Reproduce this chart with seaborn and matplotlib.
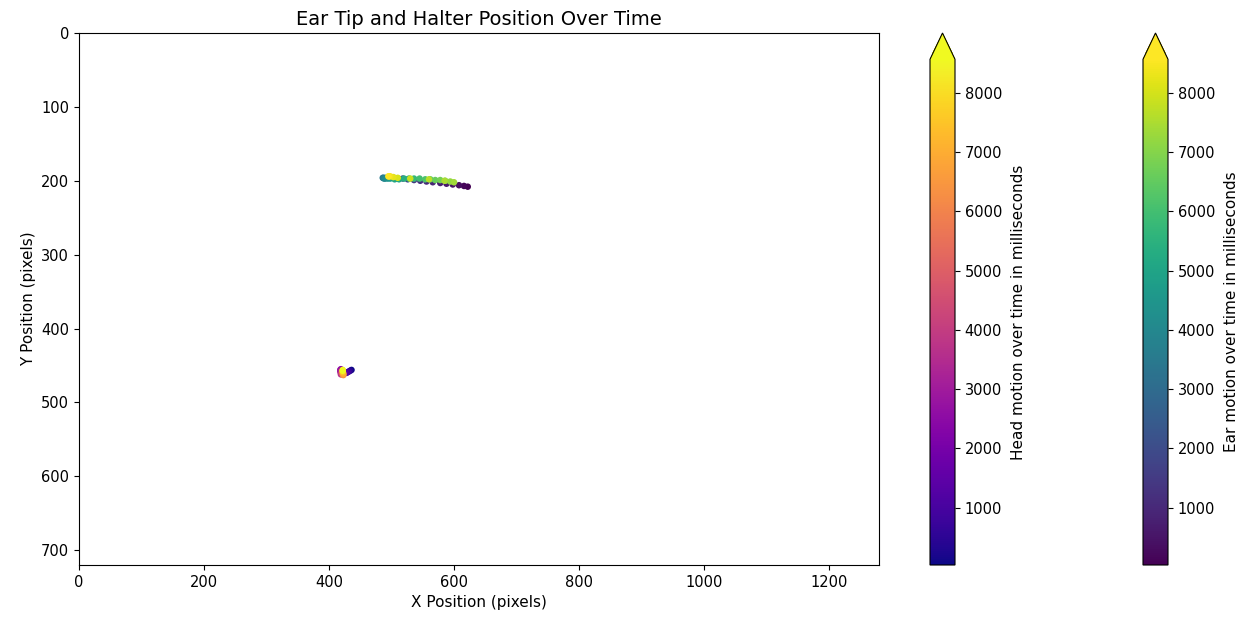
import numpy as np
import pandas as pd
import matplotlib
matplotlib.use("Agg")
import matplotlib.pyplot as plt
import seaborn as sns
from matplotlib.colors import Normalize
from matplotlib.cm import ScalarMappable

# Ear tip trajectory (pixels) and time (ms)
ear_t = [33, 150, 300, 450, 600, 750, 900, 1050, 1200, 1400, 1600, 1800, 2000,
         2300, 2600, 2900, 3200, 3500, 3800, 4100, 4400, 4700, 5000, 5200, 5400,
         5600, 5800, 6000, 6200, 6400, 6600, 6800, 7000, 7200, 7350, 7500, 7700,
         7900, 8100, 8250, 8400, 8500, 8567]
ear_x = [622, 616, 608, 598, 588, 578, 566, 556, 546, 536, 526, 518, 510,
         504, 496, 490, 487, 486, 488, 490, 494, 498, 505, 512, 520,
         528, 536, 545, 554, 562, 570, 578, 586, 594, 600, 585, 560,
         530, 510, 503, 498, 496, 495]
ear_y = [208, 207, 206, 205, 204, 203, 202, 201, 200, 199, 198, 197, 197,
         196, 196, 196, 196, 196, 197, 197, 197, 197, 198, 198, 197,
         197, 197, 197, 198, 198, 199, 199, 200, 201, 202, 200, 198,
         197, 196, 195, 194, 194, 194]

# Halter trajectory (pixels) and time (ms)
halter_t = [33, 300, 600, 900, 1200, 1500, 1800, 2100, 2400, 2700, 3000, 3300,
            3600, 4000, 4500, 5000, 5500, 6000, 6500, 7000, 7500, 8000, 8300, 8567]
halter_x = [436, 434, 432, 430, 428, 425, 422, 420, 419, 418, 418, 419,
            419, 420, 421, 421, 422, 422, 423, 423, 422, 422, 422, 422]
halter_y = [456, 457, 458, 459, 460, 460, 459, 457, 455, 456, 458, 460,
            462, 461, 460, 459, 460, 462, 463, 461, 459, 457, 456, 457]

t_min, t_max = 33, 8567

sns.set_style("ticks")
plt.rcParams['font.family'] = ['DejaVu Sans']
plt.rcParams['font.size'] = 10.5
for k in ["text.color", "axes.labelcolor", "xtick.color", "ytick.color", "axes.edgecolor"]:
    plt.rcParams[k] = "black"

fig = plt.figure(figsize=(12.49, 6.18), dpi=100)
W, H = 1249, 618
ax = fig.add_axes([79 / W, 1 - 565 / H, 800 / W, 532 / H])
cax1 = fig.add_axes([930 / W, 1 - 565 / H, 25 / W, 532 / H])
cax2 = fig.add_axes([1143 / W, 1 - 565 / H, 25 / W, 532 / H])

norm = Normalize(vmin=t_min, vmax=t_max)

halter = pd.DataFrame({"x": halter_x, "y": halter_y, "t": halter_t})
ear = pd.DataFrame({"x": ear_x, "y": ear_y, "t": ear_t})

sns.scatterplot(data=halter, x="x", y="y", hue="t", palette="plasma", hue_norm=norm,
                s=22, linewidth=0, legend=False, ax=ax)
sns.scatterplot(data=ear, x="x", y="y", hue="t", palette="viridis", hue_norm=norm,
                s=22, linewidth=0, legend=False, ax=ax)

ax.set_xlim(0, 1280)
ax.set_ylim(720, 0)
ax.set_xticks([0, 200, 400, 600, 800, 1000, 1200])
ax.set_yticks([0, 100, 200, 300, 400, 500, 600, 700])
ax.set_xlabel("X Position (pixels)", fontsize=11)
ax.set_ylabel("Y Position (pixels)", fontsize=11)
ax.set_title("Ear Tip and Halter Position Over Time", fontsize=14)
for sp in ax.spines.values():
    sp.set_visible(True)
    sp.set_color("black")
ax.tick_params(colors="black", labelsize=10.5)

cb1 = fig.colorbar(ScalarMappable(norm=norm, cmap="plasma"), cax=cax1, extend="max",
                   extendfrac=0.052)
cb1.set_label("Head motion over time in milliseconds", fontsize=11, labelpad=6)
cb1.set_ticks([1000, 2000, 3000, 4000, 5000, 6000, 7000, 8000])
cb1.ax.tick_params(labelsize=10.5)

cb2 = fig.colorbar(ScalarMappable(norm=norm, cmap="viridis"), cax=cax2, extend="max",
                   extendfrac=0.052)
cb2.set_label("Ear motion over time in milliseconds", fontsize=11, labelpad=6)
cb2.set_ticks([1000, 2000, 3000, 4000, 5000, 6000, 7000, 8000])
cb2.ax.tick_params(labelsize=10.5)

fig.savefig("out.png", dpi=100)
